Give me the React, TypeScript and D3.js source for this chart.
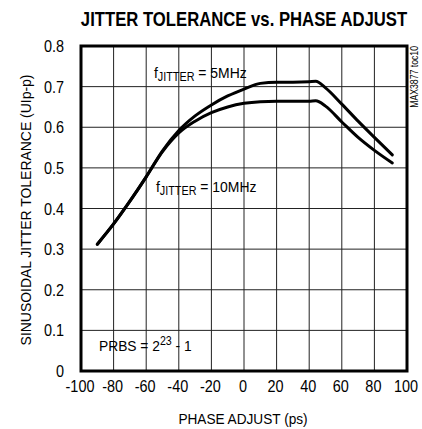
import React from "react";
import * as d3 from "d3";

const xTicks = [-100, -80, -60, -40, -20, 0, 20, 40, 60, 80, 100];
const yTicks = [0, 0.1, 0.2, 0.3, 0.4, 0.5, 0.6, 0.7, 0.8];
const yTickLabels = ["0", "0.1", "0.2", "0.3", "0.4", "0.5", "0.6", "0.7", "0.8"];

const phase5 = [-90, -80, -70, -60, -50, -40, -30, -20, -10, 0, 10, 20, 30, 40, 44, 50, 60, 70, 80, 91];
const tol5 = [0.312, 0.362, 0.418, 0.478, 0.542, 0.592, 0.628, 0.655, 0.677, 0.694, 0.708, 0.711, 0.711, 0.712, 0.713, 0.697, 0.657, 0.615, 0.575, 0.532];

const phase10 = [-90, -80, -70, -60, -50, -40, -30, -20, -10, 0, 10, 20, 30, 40, 44, 50, 60, 70, 80, 91];
const tol10 = [0.312, 0.362, 0.418, 0.478, 0.540, 0.586, 0.615, 0.636, 0.650, 0.659, 0.663, 0.664, 0.664, 0.664, 0.665, 0.652, 0.613, 0.575, 0.543, 0.512];

const W = 422;
const H = 429;
const FONT = "'Liberation Sans', Arial, sans-serif";

function NT(props: {
  x: number;
  y: number;
  s: number;
  size: number;
  anchor?: string;
  rot?: number;
  bold?: boolean;
  children: React.ReactNode;
}) {
  const { x, y, s, size, anchor = "start", rot = 0, bold = false, children } = props;
  return (
    <text
      transform={`translate(${x},${y}) rotate(${rot}) scale(${s},1)`}
      textAnchor={anchor}
      fontSize={size}
      fontWeight={bold ? "bold" : "normal"}
      fill="#000"
    >
      {children}
    </text>
  );
}

export default function App() {
  const x = d3.scaleLinear().domain([-100, 100]).range([81, 407]);
  const y = d3.scaleLinear().domain([0, 0.8]).range([371, 46]);
  const line = d3
    .line<[number, number]>()
    .x((d) => x(d[0]))
    .y((d) => y(d[1]))
    .curve(d3.curveMonotoneX);
  const d5 = line(phase5.map((p, i) => [p, tol5[i]] as [number, number])) || "";
  const d10 = line(phase10.map((p, i) => [p, tol10[i]] as [number, number])) || "";

  return (
    <svg
      width={W}
      height={H}
      viewBox={`0 0 ${W} ${H}`}
      style={{ position: "absolute", left: 0, top: 0, background: "#fff" }}
      fontFamily={FONT}
    >
      <rect x={0} y={0} width={W} height={H} fill="#fff" />
      <NT x={244} y={26} s={0.856} size={19.5} anchor="middle" bold>
        JITTER TOLERANCE vs. PHASE ADJUST
      </NT>

      {/* grid */}
      {xTicks.map((t) => (
        <line key={"gx" + t} x1={x(t)} x2={x(t)} y1={y(0)} y2={y(0.8)} stroke="#222" strokeWidth={1} />
      ))}
      {yTicks.map((t) => (
        <line key={"gy" + t} x1={x(-100)} x2={x(100)} y1={y(t)} y2={y(t)} stroke="#222" strokeWidth={1} />
      ))}
      <rect
        x={x(-100)}
        y={y(0.8)}
        width={x(100) - x(-100)}
        height={y(0) - y(0.8)}
        fill="none"
        stroke="#000"
        strokeWidth={3}
      />

      {/* tick labels */}
      {yTicks.map((t, i) => (
        <NT key={"ly" + t} x={64} y={y(t) + 6} s={0.85} size={17} anchor="end">
          {yTickLabels[i]}
        </NT>
      ))}
      {xTicks.map((t) => (
        <NT key={"lx" + t} x={x(t) - 1} y={392} s={0.85} size={17} anchor="middle">
          {String(t)}
        </NT>
      ))}

      {/* axis titles */}
      <NT x={243} y={424} s={0.88} size={15.5} anchor="middle">
        PHASE ADJUST (ps)
      </NT>
      <NT x={31} y={210} s={0.9} size={15.5} anchor="middle" rot={-90}>
        SINUSOIDAL JITTER TOLERANCE (UIp-p)
      </NT>
      <NT x={418} y={46} s={0.87} size={10} anchor="end" rot={-90}>
        MAX3877 toc10
      </NT>

      {/* curves */}
      <path d={d5} fill="none" stroke="#000" strokeWidth={3} strokeLinejoin="round" strokeLinecap="round" />
      <path d={d10} fill="none" stroke="#000" strokeWidth={3} strokeLinejoin="round" strokeLinecap="round" />

      {/* annotations */}
      <NT x={154} y={78} s={0.9} size={15.5}>
        f<tspan fontSize={12} dy={3}>JITTER</tspan>
        <tspan dy={-3}> = 5MHz</tspan>
      </NT>
      <NT x={156} y={192} s={0.9} size={15.5}>
        f<tspan fontSize={12} dy={3}>JITTER</tspan>
        <tspan dy={-3}> = 10MHz</tspan>
      </NT>
      <NT x={99} y={351} s={0.89} size={15.5}>
        PRBS = 2<tspan fontSize={12} dy={-6}>23</tspan>
        <tspan dy={6}> - 1</tspan>
      </NT>
    </svg>
  );
}
